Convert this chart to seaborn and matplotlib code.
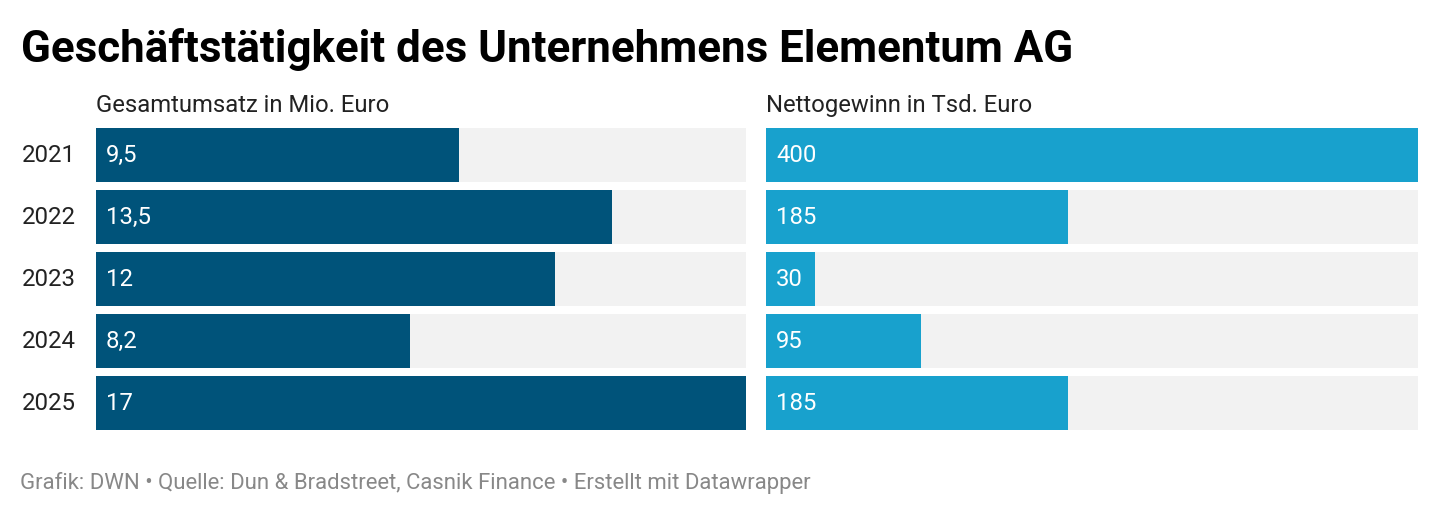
import matplotlib
matplotlib.use("Agg")
import matplotlib.pyplot as plt
import seaborn as sns
import pandas as pd

years = ["2021", "2022", "2023", "2024", "2025"]
umsatz = [9.5, 13.5, 12, 8.2, 17]
umsatz_labels = ["9,5", "13,5", "12", "8,2", "17"]
gewinn = [400, 185, 30, 95, 185]
gewinn_labels = ["400", "185", "30", "95", "185"]

title = "Geschäftstätigkeit des Unternehmens Elementum AG"
sub_left = "Gesamtumsatz in Mio. Euro"
sub_right = "Nettogewinn in Tsd. Euro"
footer = "Grafik: DWN • Quelle: Dun & Bradstreet, Casnik Finance • Erstellt mit Datawrapper"

DARK = "#00537a"
LIGHT = "#18a1cd"
BG = "#f2f2f2"

sns.set_theme(style="white")
plt.rcParams["font.family"] = ["Roboto", "DejaVu Sans"]

W, H = 1440, 516
fig = plt.figure(figsize=(W / 100, H / 100), dpi=100)

def fx(px):
    return px / W

def fy(py):
    return 1 - py / H

top, bottom = 128, 430
ax_l = fig.add_axes([fx(96), fy(bottom), fx(746 - 96), (bottom - top) / H])
ax_r = fig.add_axes([fx(766), fy(bottom), fx(1418 - 766), (bottom - top) / H])

bw = 54 / 62

def panel(ax, vals, labels, color):
    vmax = max(vals)
    df = pd.DataFrame({"year": years, "val": vals, "bg": [vmax] * len(vals)})
    sns.barplot(data=df, x="bg", y="year", orient="h", color=BG, width=bw,
                saturation=1, ax=ax, order=years)
    sns.barplot(data=df, x="val", y="year", orient="h", color=color, width=bw,
                saturation=1, ax=ax, order=years)
    for p in ax.patches:
        p.set_edgecolor("none")
        p.set_linewidth(0)
    ax.set_xlim(0, vmax)
    ax.set_ylim(len(years) - 1 + bw / 2, -bw / 2)
    for i, lab in enumerate(labels):
        ax.text(10 / 650 * vmax, i, lab, color="white", fontsize=17.2,
                va="center", ha="left")
    ax.set_xlabel("")
    ax.set_ylabel("")
    ax.set_xticks([])
    ax.set_yticks([])
    for s in ax.spines.values():
        s.set_visible(False)

panel(ax_l, umsatz, umsatz_labels, DARK)
panel(ax_r, gewinn, gewinn_labels, LIGHT)

for i, y in enumerate(years):
    ypx = top + 27 + 62 * i
    fig.text(fx(22), fy(ypx), y, fontsize=17.3, color="#222222", va="center", ha="left")

fig.text(fx(21), fy(62), title, fontsize=31.6, fontweight="bold", color="#000000",
         va="baseline", ha="left")
fig.text(fx(96), fy(112), sub_left, fontsize=17.2, color="#222222", va="baseline", ha="left")
fig.text(fx(766), fy(112), sub_right, fontsize=17.2, color="#222222", va="baseline", ha="left")
fig.text(fx(20), fy(489), footer, fontsize=15.9, color="#888888", va="baseline", ha="left")

fig.savefig("out.png", dpi=100, facecolor="white")
